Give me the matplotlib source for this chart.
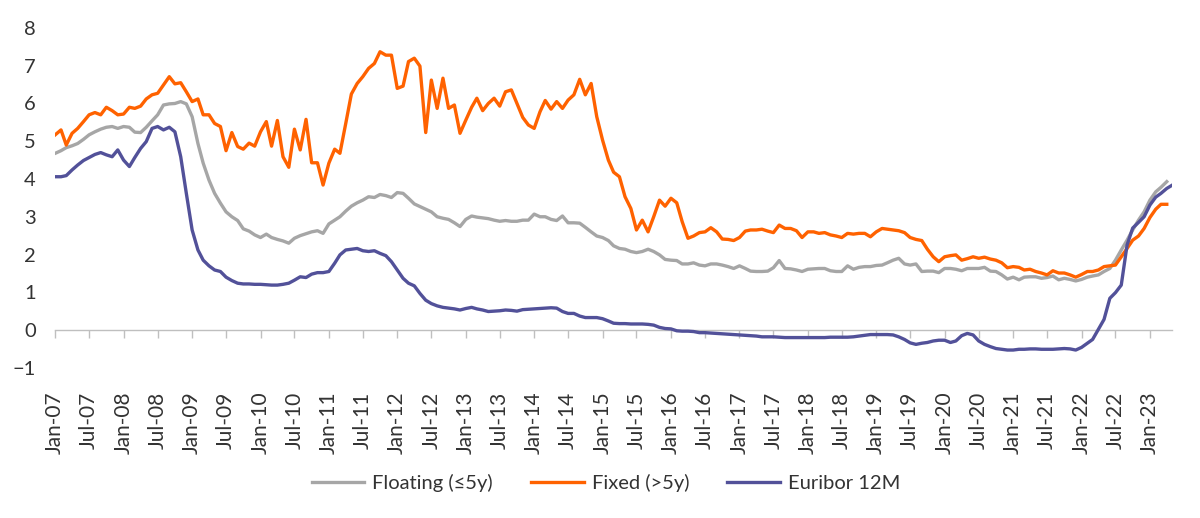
import pandas as pd
import matplotlib
matplotlib.use("Agg")
import matplotlib.pyplot as plt

plt.rcParams['font.family'] = ['Lato', 'DejaVu Sans']

start = "2007-01-01"

floating = [4.68, 4.75, 4.83, 4.88, 4.94, 5.05, 5.17, 5.25, 5.32, 5.37, 5.39, 5.34,
            5.39, 5.37, 5.24, 5.23, 5.37, 5.54, 5.70, 5.96, 5.99, 6.00, 6.05, 5.99,
            5.65, 4.94, 4.42, 3.97, 3.62, 3.36, 3.13, 3.00, 2.90, 2.68, 2.62,
            2.52, 2.45, 2.54, 2.45, 2.40, 2.36, 2.30, 2.43, 2.50, 2.55, 2.60, 2.63,
            2.56, 2.81, 2.91, 3.00, 3.15, 3.28, 3.37, 3.44, 3.53, 3.51, 3.59, 3.56,
            3.51, 3.64, 3.62, 3.49, 3.34, 3.27, 3.20, 3.13, 3.00, 2.96,
            2.93, 2.84, 2.74, 2.93, 3.02, 2.99, 2.97, 2.95, 2.91, 2.88, 2.90, 2.88,
            2.88, 2.91, 2.91, 3.07, 3.00, 3.00, 2.93, 2.90, 3.02, 2.84, 2.84, 2.83,
            2.72, 2.60, 2.49, 2.45, 2.37, 2.23, 2.16, 2.14, 2.08, 2.05,
            2.08, 2.14, 2.08, 1.99, 1.87, 1.85, 1.84, 1.75, 1.75, 1.78, 1.72, 1.70,
            1.75, 1.75, 1.72, 1.68, 1.63, 1.70, 1.63, 1.56, 1.55, 1.55, 1.56, 1.65,
            1.84, 1.63, 1.62, 1.59, 1.55, 1.61, 1.62, 1.63, 1.63, 1.57,
            1.55, 1.55, 1.70, 1.61, 1.66, 1.68, 1.68, 1.71, 1.72, 1.78, 1.85, 1.90,
            1.75, 1.72, 1.75, 1.55, 1.56, 1.56, 1.52, 1.63, 1.63, 1.61, 1.57, 1.63,
            1.63, 1.63, 1.66, 1.56, 1.55, 1.46, 1.35, 1.40, 1.33, 1.40,
            1.41, 1.41, 1.37, 1.39, 1.43, 1.33, 1.37, 1.34, 1.30, 1.34, 1.40, 1.43,
            1.46, 1.55, 1.63, 1.85, 2.12, 2.38, 2.65, 2.91, 3.13, 3.44, 3.66, 3.78, 3.93]

fixed = [5.17, 5.30, 4.90, 5.21, 5.34, 5.52, 5.70, 5.76, 5.70, 5.90, 5.81, 5.70,
         5.72, 5.90, 5.87, 5.93, 6.12, 6.23, 6.27, 6.49, 6.71, 6.52, 6.55, 6.31,
         6.05, 6.12, 5.70, 5.70, 5.47, 5.39, 4.75, 5.23, 4.86, 4.79, 4.95,
         4.87, 5.25, 5.52, 4.87, 5.55, 4.59, 4.31, 5.32, 4.77, 5.58, 4.43, 4.43,
         3.84, 4.42, 4.79, 4.68, 5.47, 6.25, 6.53, 6.71, 6.93, 7.06, 7.37, 7.28,
         7.28, 6.40, 6.46, 7.11, 7.20, 6.99, 5.23, 6.62, 5.87, 6.67,
         5.87, 5.96, 5.21, 5.56, 5.90, 6.14, 5.81, 6.00, 6.14, 5.93, 6.31, 6.36,
         6.00, 5.63, 5.43, 5.34, 5.78, 6.08, 5.85, 6.05, 5.87, 6.09, 6.23, 6.64,
         6.23, 6.53, 5.65, 5.03, 4.50, 4.18, 4.06, 3.53, 3.22, 2.65,
         2.91, 2.60, 3.00, 3.44, 3.28, 3.49, 3.37, 2.87, 2.43, 2.49, 2.58, 2.60,
         2.71, 2.60, 2.41, 2.40, 2.37, 2.45, 2.62, 2.65, 2.65, 2.67, 2.62, 2.58,
         2.78, 2.69, 2.69, 2.63, 2.45, 2.60, 2.60, 2.56, 2.58, 2.52,
         2.49, 2.45, 2.56, 2.54, 2.56, 2.56, 2.47, 2.60, 2.69, 2.67, 2.65, 2.63,
         2.58, 2.45, 2.40, 2.37, 2.14, 1.94, 1.81, 1.94, 1.97, 1.99, 1.85, 1.89,
         1.94, 1.90, 1.93, 1.88, 1.85, 1.78, 1.65, 1.68, 1.66, 1.59,
         1.61, 1.55, 1.51, 1.46, 1.57, 1.51, 1.51, 1.46, 1.40, 1.47, 1.55, 1.55,
         1.59, 1.68, 1.70, 1.72, 1.94, 2.16, 2.38, 2.49, 2.69, 2.98, 3.20, 3.33, 3.33]

euribor = [4.06, 4.06, 4.09, 4.24, 4.37, 4.49, 4.57, 4.65, 4.70, 4.64, 4.59, 4.77,
           4.50, 4.33, 4.57, 4.81, 4.99, 5.34, 5.39, 5.30, 5.37, 5.25, 4.59, 3.62,
           2.65, 2.12, 1.85, 1.70, 1.59, 1.55, 1.40, 1.31, 1.24, 1.22, 1.22,
           1.21, 1.21, 1.20, 1.19, 1.19, 1.21, 1.24, 1.32, 1.41, 1.39, 1.48, 1.52,
           1.52, 1.55, 1.77, 1.99, 2.12, 2.14, 2.16, 2.10, 2.08, 2.10, 2.03, 1.97,
           1.81, 1.59, 1.37, 1.24, 1.17, 0.97, 0.79, 0.70, 0.64, 0.60,
           0.58, 0.56, 0.53, 0.57, 0.60, 0.56, 0.53, 0.49, 0.50, 0.51, 0.53, 0.52,
           0.50, 0.54, 0.55, 0.56, 0.57, 0.58, 0.59, 0.58, 0.49, 0.44, 0.44, 0.37,
           0.33, 0.33, 0.33, 0.30, 0.24, 0.18, 0.17, 0.17, 0.16, 0.16,
           0.16, 0.15, 0.13, 0.07, 0.04, 0.03, -0.02, -0.03, -0.03, -0.04, -0.07, -0.07,
           -0.08, -0.09, -0.10, -0.11, -0.12, -0.13, -0.14, -0.15, -0.16, -0.18, -0.18, -0.18,
           -0.19, -0.20, -0.20, -0.20, -0.20, -0.20, -0.20, -0.20, -0.20, -0.19,
           -0.19, -0.19, -0.19, -0.18, -0.16, -0.14, -0.12, -0.12, -0.12, -0.12, -0.13, -0.18,
           -0.25, -0.34, -0.38, -0.35, -0.33, -0.29, -0.27, -0.27, -0.33, -0.29, -0.15, -0.09,
           -0.13, -0.29, -0.38, -0.44, -0.49, -0.51, -0.53, -0.53, -0.51, -0.51,
           -0.50, -0.50, -0.51, -0.51, -0.51, -0.50, -0.49, -0.50, -0.53, -0.46, -0.35, -0.25,
           0.02, 0.28, 0.84, 0.99, 1.19, 2.25, 2.70, 2.85, 3.00, 3.31, 3.52, 3.62, 3.75, 3.84]

tick_labels = ["Jan-07", "Jul-07", "Jan-08", "Jul-08", "Jan-09", "Jul-09", "Jan-10",
               "Jul-10", "Jan-11", "Jul-11", "Jan-12", "Jul-12", "Jan-13", "Jul-13",
               "Jan-14", "Jul-14", "Jan-15", "Jul-15", "Jan-16", "Jul-16", "Jan-17",
               "Jul-17", "Jan-18", "Jul-18", "Jan-19", "Jul-19", "Jan-20", "Jul-20",
               "Jan-21", "Jul-21", "Jan-22", "Jul-22", "Jan-23"]

grey = "#A6A6A6"
orange = "#FF6200"
purple = "#525199"
text_col = "#333333"

d_float = pd.date_range(start, periods=len(floating), freq="MS")
d_fixed = pd.date_range(start, periods=len(fixed), freq="MS")
d_eur = pd.date_range(start, periods=len(euribor), freq="MS")
tick_dates = pd.date_range(start, periods=len(tick_labels), freq="6MS")

fig = plt.figure(figsize=(12, 5.18), dpi=100)
ax = fig.add_axes([0.046, 0.29, 0.931, 0.656])

ax.plot(d_float, floating, color=grey, lw=2.4, label="Floating (≤5y)")
ax.plot(d_fixed, fixed, color=orange, lw=2.4, label="Fixed (>5y)")
ax.plot(d_eur, euribor, color=purple, lw=2.4, label="Euribor 12M")

ymin, ymax = -1, 8
ax.set_ylim(ymin, ymax)
ax.set_xlim(d_eur[0], d_eur[-1])
ax.set_yticks(range(-1, 9))

for s in ax.spines.values():
    s.set_visible(False)

ax.set_xticks(tick_dates)
ax.set_xticklabels(tick_labels, rotation=90, color=text_col, fontsize=15)
ax.tick_params(axis="x", length=0, pad=17)
ax.tick_params(axis="y", length=0, pad=14, labelsize=14.5, labelcolor=text_col)

# zero line with tick marks, labels stay at the bottom
zero_ax = ax.secondary_xaxis((0 - ymin) / (ymax - ymin))
zero_ax.set_xticks(tick_dates)
zero_ax.set_xticklabels([])
zero_ax.tick_params(axis="x", direction="out", length=5.5, width=1, color="#BFBFBF")
zero_ax.spines["bottom"].set_color("#BFBFBF")
zero_ax.spines["bottom"].set_linewidth(1)

leg = fig.legend(loc="center", bbox_to_anchor=(0.505, 0.067), ncol=3, frameon=False,
                 fontsize=14.5, handlelength=2.6, handletextpad=0.4, columnspacing=1.9)
for t in leg.get_texts():
    t.set_color(text_col)

fig.savefig("out.png", dpi=100)
